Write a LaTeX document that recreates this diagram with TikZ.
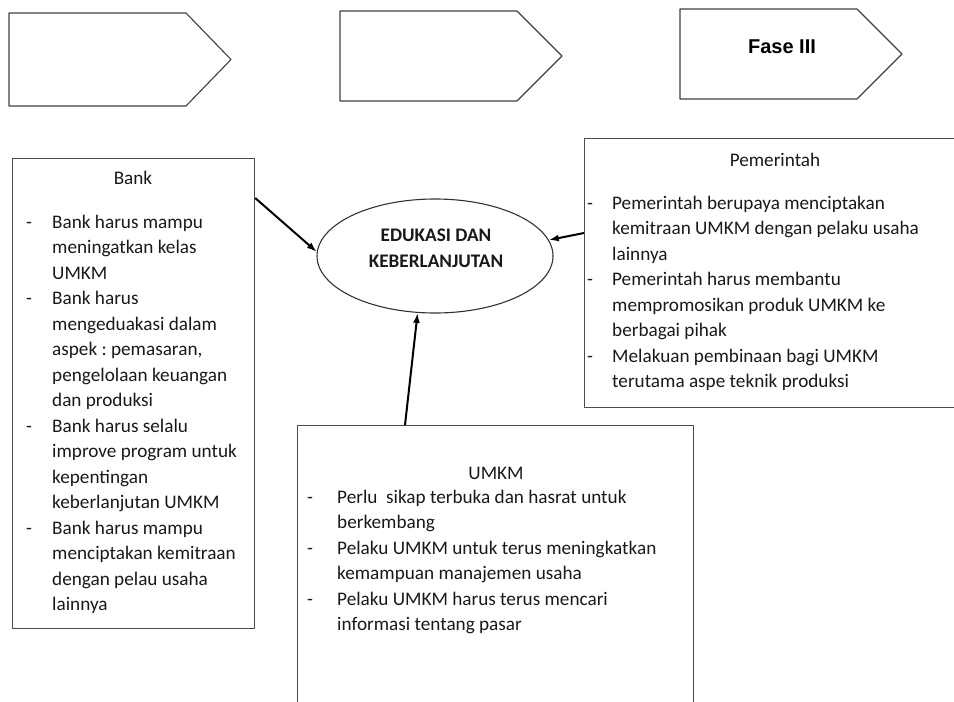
\documentclass[tikz,border=0pt]{standalone}
\usepackage{fontspec}
\setmainfont{Carlito}
\newfontfamily\fasefont{Liberation Sans}
\usetikzlibrary{shapes.geometric,arrows.meta}
\frenchspacing
\begin{document}
\begin{tikzpicture}[x=1pt, y=-1pt, line join=round, >={Latex[length=10pt,width=7pt]},
	kotak/.style={draw=black!70, line width=1.2pt, inner sep=0pt, anchor=north west},
	judul/.style={font=\fontsize{19.2}{25.5}\selectfont, text=black!90},
	isi/.style={font=\fontsize{19.2}{25.5}\selectfont, text=black!90, inner sep=0pt, anchor=north west},
	panah/.style={->, line width=2pt}]
	\useasboundingbox (0,0) rectangle (954,702);
	% tiga fase
	\foreach \xl/\yt/\yb in {9/13/106, 340/11/101, 680/9/99}
		\draw[draw=black!75, line width=1.1pt] (\xl,\yt) -- ({\xl+177},\yt) -- ({\xl+222},{(\yt+\yb)/2}) -- ({\xl+177},\yb) -- (\xl,\yb) -- cycle;
	\node[font={\fontsize{20}{24}\fasefont\bfseries}] (fase) at (782,47) {Fase III};
	% pusat
	\node[ellipse, draw=black!80, line width=1.1pt, minimum width=236pt, minimum height=114pt, inner sep=0pt] (edu) at (435,256) {};
	\node[font={\fontsize{19.2}{26}\selectfont\bfseries}, text=black!90, align=center] (edutxt) at (436,248) {EDUKASI DAN\\KEBERLANJUTAN};
	% bank
	\node[kotak, minimum width=242pt, minimum height=470pt] (bank) at (12,158) {};
	\node[judul] (bankjudul) at (133,178) {Bank};
	\node[isi] (bankisi) at (26,210) {\begin{tabular}{@{}p{26pt}@{}l@{}}
		-&Bank harus mampu\\
		&meningatkan kelas\\
		&UMKM\\
		-&Bank harus\\
		&mengeduakasi dalam\\
		&aspek : pemasaran,\\
		&pengelolaan keuangan\\
		&dan produksi\\
		-&Bank harus selalu\\
		&improve program untuk\\
		&kepentingan\\
		&keberlanjutan UMKM\\
		-&Bank harus mampu\\
		&menciptakan kemitraan\\
		&dengan pelau usaha\\
		&lainnya
	\end{tabular}};
	% pemerintah
	\node[kotak, minimum width=390pt, minimum height=269pt] (pem) at (584,138) {};
	\node[judul] (pemjudul) at (775,160) {Pemerintah};
	\node[isi] (pemisi) at (587,191) {\begin{tabular}{@{}p{25pt}@{}l@{}}
		-&Pemerintah berupaya menciptakan\\
		&kemitraan UMKM dengan pelaku usaha\\
		&lainnya\\
		-&Pemerintah harus membantu\\
		&mempromosikan produk UMKM ke\\
		&berbagai pihak\\
		-&Melakuan pembinaan bagi UMKM\\
		&terutama aspe teknik produksi
	\end{tabular}};
	% umkm
	\node[kotak, minimum width=396pt, minimum height=300pt] (umkm) at (297,425) {};
	\node[judul] (umkmjudul) at (496,473) {UMKM};
	\node[isi] (umkmisi) at (307,485) {\begin{tabular}{@{}p{30pt}@{}l@{}}
		-&Perlu\ \ sikap terbuka dan hasrat untuk\\
		&berkembang\\
		-&Pelaku UMKM untuk terus meningkatkan\\
		&kemampuan manajemen usaha\\
		-&Pelaku UMKM harus terus mencari\\
		&informasi tentang pasar
	\end{tabular}};
	% panah
	\draw[panah] ([yshift=-40pt]bank.north east) -- (edu.178);
	\draw[panah] ([yshift=-95pt]pem.north west) -- (edu.8);
	\draw[panah] ([xshift=108pt]umkm.north west) -- (edu.253);
\end{tikzpicture}
\end{document}
